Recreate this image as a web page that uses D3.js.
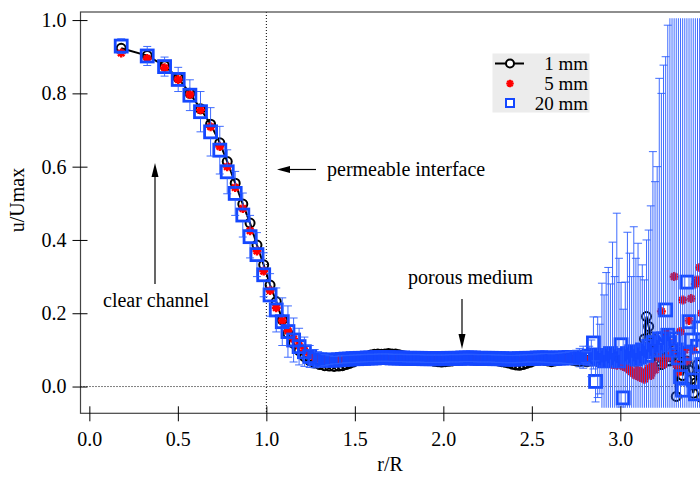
<!DOCTYPE html>
<html>
<head>
<meta charset="utf-8">
<script src="https://cdn.jsdelivr.net/npm/d3@7"></script>
<style>
  body { margin: 0; background: #fff; }
  svg { display: block; font-family: "Liberation Serif", "Times New Roman", serif; }
</style>
</head>
<body>
<div id="graph"></div>
<script>
// r/R positions, split by region
var rChannel = [0.18, 0.327, 0.425, 0.502, 0.568, 0.628, 0.685, 0.737, 0.779, 0.824,
  0.867, 0.908, 0.947, 0.985, 1.021, 1.056, 1.090, 1.122, 1.154, 1.185,
  1.215, 1.245, 1.273, 1.302, 1.329, 1.356, 1.383, 1.409];
var rPorous = [1.43, 1.45, 1.47, 1.49, 1.51, 1.53, 1.55, 1.57, 1.59, 1.61,
  1.63, 1.65, 1.67, 1.69, 1.71, 1.73, 1.75, 1.77, 1.79, 1.81,
  1.83, 1.85, 1.87, 1.89, 1.91, 1.93, 1.95, 1.97, 1.99, 2.01,
  2.03, 2.05, 2.07, 2.09, 2.11, 2.13, 2.15, 2.17, 2.19, 2.21,
  2.23, 2.25, 2.27, 2.29, 2.31, 2.33, 2.35, 2.37, 2.39, 2.41,
  2.43, 2.45, 2.47, 2.49, 2.51, 2.53, 2.55, 2.57, 2.59, 2.61,
  2.63, 2.65, 2.67, 2.69, 2.71, 2.73, 2.75, 2.77, 2.79];
var rWall = [2.800, 2.812, 2.824, 2.836, 2.848, 2.860, 2.872, 2.884, 2.896, 2.908,
  2.920, 2.932, 2.944, 2.956, 2.968, 2.980, 2.992, 3.004, 3.016, 3.028,
  3.040, 3.052, 3.064, 3.076, 3.088, 3.100, 3.112, 3.124, 3.136, 3.148,
  3.160, 3.172, 3.184, 3.196, 3.208, 3.220, 3.232, 3.244, 3.256, 3.268,
  3.280, 3.292, 3.304, 3.316, 3.328, 3.340, 3.352, 3.364, 3.376, 3.388,
  3.400, 3.412, 3.424, 3.436, 3.448, 3.460];

// 1 mm (black circles)
var u1Channel = [0.923, 0.903, 0.875, 0.842, 0.800, 0.758, 0.716, 0.665, 0.614, 0.555,
  0.498, 0.446, 0.386, 0.332, 0.277, 0.232, 0.182, 0.145, 0.118, 0.098,
  0.082, 0.071, 0.064, 0.060, 0.057, 0.056, 0.055, 0.056];
var u1Porous = [0.057, 0.060, 0.063, 0.067, 0.071, 0.075, 0.078, 0.082, 0.086, 0.088,
  0.089, 0.088, 0.089, 0.090, 0.089, 0.089, 0.087, 0.084, 0.080, 0.078,
  0.076, 0.075, 0.074, 0.073, 0.072, 0.071, 0.069, 0.068, 0.067, 0.068,
  0.069, 0.070, 0.072, 0.073, 0.074, 0.075, 0.074, 0.073, 0.072, 0.073,
  0.074, 0.075, 0.074, 0.072, 0.070, 0.068, 0.066, 0.064, 0.061, 0.059,
  0.058, 0.060, 0.063, 0.066, 0.070, 0.072, 0.073, 0.072, 0.070, 0.068,
  0.070, 0.072, 0.074, 0.075, 0.074, 0.072, 0.070, 0.068, 0.070];
var u1Wall = [0.070, 0.068, 0.072, 0.070, 0.073, 0.071, 0.069, 0.072, 0.070, 0.068,
  0.070, 0.072, 0.069, 0.071, 0.068, 0.070, 0.072, 0.069, 0.071, 0.070,
  0.072, 0.068, 0.070, 0.073, 0.069, 0.075, 0.080, 0.095, 0.130, 0.191,
  0.164, 0.136, 0.110, 0.090, 0.085, 0.070, 0.060, 0.075, 0.080, 0.070,
  0.070, 0.080, 0.100, -0.027, 0.059, 0.092, 0.030, 0.060, 0.070, 0.045,
  0.020, -0.018, 0.010, 0.060, 0.040, -0.030];

// 5 mm (red asterisks)
var u5Channel = [0.910, 0.895, 0.870, 0.838, 0.797, 0.755, 0.709, 0.655, 0.600, 0.543,
  0.486, 0.425, 0.370, 0.315, 0.262, 0.215, 0.180, 0.152, 0.130, 0.112,
  0.098, 0.087, 0.080, 0.076, 0.074, 0.073, 0.072, 0.072];
var u5Porous = [0.071, 0.071, 0.072, 0.072, 0.073, 0.073, 0.074, 0.074, 0.074, 0.075,
  0.075, 0.075, 0.074, 0.074, 0.074, 0.073, 0.073, 0.073, 0.072, 0.072,
  0.072, 0.072, 0.071, 0.071, 0.071, 0.070, 0.070, 0.070, 0.071, 0.071,
  0.072, 0.072, 0.072, 0.073, 0.073, 0.073, 0.073, 0.072, 0.072, 0.072,
  0.072, 0.072, 0.071, 0.071, 0.070, 0.070, 0.069, 0.068, 0.068, 0.068,
  0.069, 0.070, 0.071, 0.072, 0.072, 0.073, 0.073, 0.073, 0.072, 0.072,
  0.072, 0.073, 0.073, 0.074, 0.074, 0.073, 0.073, 0.072, 0.073];
var u5Wall = [0.072, 0.070, 0.074, 0.071, 0.073, 0.070, 0.072, 0.068, 0.070, 0.066,
  0.068, 0.064, 0.066, 0.060, 0.062, 0.058, 0.064, 0.060, 0.055, 0.058,
  0.050, 0.045, 0.040, 0.035, 0.030, 0.045, 0.025, 0.040, 0.020, 0.035,
  0.050, 0.030, 0.060, 0.045, 0.100, 0.080, 0.205, 0.060, 0.146, 0.080,
  0.120, 0.090, 0.300, 0.060, 0.040, 0.150, 0.236, 0.100, 0.070, 0.180,
  0.240, 0.100, 0.280, 0.291, 0.325, 0.200];

// 20 mm (blue squares) and its error bars
var u20Channel = [0.929, 0.902, 0.873, 0.838, 0.795, 0.750, 0.695, 0.645, 0.586, 0.527,
  0.468, 0.409, 0.360, 0.305, 0.250, 0.209, 0.177, 0.150, 0.127, 0.109,
  0.095, 0.082, 0.076, 0.073, 0.072, 0.072, 0.072, 0.073];
var u20Porous = [0.074, 0.075, 0.075, 0.076, 0.076, 0.077, 0.077, 0.078, 0.078, 0.078,
  0.079, 0.079, 0.079, 0.079, 0.078, 0.078, 0.078, 0.078, 0.077, 0.077,
  0.077, 0.077, 0.077, 0.076, 0.076, 0.076, 0.076, 0.076, 0.076, 0.076,
  0.077, 0.077, 0.077, 0.077, 0.078, 0.078, 0.078, 0.078, 0.077, 0.077,
  0.077, 0.077, 0.077, 0.076, 0.076, 0.076, 0.075, 0.075, 0.075, 0.075,
  0.076, 0.076, 0.077, 0.077, 0.077, 0.078, 0.078, 0.078, 0.078, 0.077,
  0.077, 0.078, 0.078, 0.078, 0.079, 0.079, 0.079, 0.079, 0.080];
var u20Wall = [0.080, 0.078, 0.083, 0.077, 0.119, 0.014, 0.080, 0.075, 0.082, 0.070,
  0.085, 0.080, 0.090, 0.075, 0.085, 0.080, 0.070, 0.114, -0.031, 0.085,
  0.090, 0.080, 0.095, 0.085, 0.075, 0.090, 0.080, 0.100, 0.095, 0.085,
  0.110, 0.100, 0.120, 0.100, 0.110, 0.130, 0.115, 0.130, 0.209, 0.140,
  0.120, 0.100, 0.130, 0.100, 0.078, 0.027, -0.010, 0.090, 0.285, 0.177,
  0.127, 0.018, -0.020, 0.110, 0.160, 0.060];
var err20Channel = [0.020, 0.026, 0.026, 0.033, 0.042, 0.055, 0.066, 0.065, 0.060, 0.060,
  0.060, 0.058, 0.060, 0.060, 0.058, 0.060, 0.065, 0.070, 0.060, 0.050,
  0.040, 0.030, 0.025, 0.020, 0.015, 0.012, 0.010, 0.010];
var err20Porous = [0.010, 0.010, 0.010, 0.010, 0.010, 0.010, 0.010, 0.010, 0.010, 0.010,
  0.010, 0.010, 0.010, 0.010, 0.010, 0.010, 0.010, 0.010, 0.010, 0.010,
  0.010, 0.010, 0.010, 0.010, 0.010, 0.010, 0.010, 0.010, 0.010, 0.010,
  0.010, 0.010, 0.010, 0.010, 0.010, 0.010, 0.010, 0.010, 0.010, 0.010,
  0.010, 0.010, 0.010, 0.010, 0.010, 0.010, 0.010, 0.010, 0.010, 0.010,
  0.010, 0.010, 0.010, 0.010, 0.010, 0.011, 0.011, 0.012, 0.012, 0.012,
  0.013, 0.013, 0.014, 0.015, 0.016, 0.018, 0.020, 0.025, 0.030];
var err20Wall = [0.015, 0.017, 0.027, 0.050, 0.071, 0.056, 0.110, 0.095, 0.200, 0.180,
  0.226, 0.245, 0.190, 0.319, 0.215, 0.393, 0.280, 0.170, 0.242, 0.200,
  0.331, 0.284, 0.205, 0.351, 0.275, 0.301, 0.220, 0.232, 0.196, 0.315,
  0.317, 0.393, 0.521, 0.459, 0.490, 0.711, 0.685, 0.747, 0.691, 0.846,
  0.950, 1.000, 1.000, 1.050, 1.100, 1.100, 1.100, 1.050, 0.950, 1.000,
  1.000, 1.100, 1.100, 1.000, 1.000, 1.050];

var xTicks = [0.0, 0.5, 1.0, 1.5, 2.0, 2.5, 3.0];
var yTicks = [0.0, 0.2, 0.4, 0.6, 0.8, 1.0];
var legendLabels = ["1 mm", "5 mm", "20 mm"];

var rAll = rChannel.concat(rPorous, rWall);
var u1 = u1Channel.concat(u1Porous, u1Wall);
var u5 = u5Channel.concat(u5Porous, u5Wall);
var u20 = u20Channel.concat(u20Porous, u20Wall);
var err20 = err20Channel.concat(err20Porous, err20Wall);

var W = 700, H = 477;
var svg = d3.select("#graph").append("svg")
  .attr("width", W).attr("height", H);

// scales (plot runs off the right edge of the picture)
var x = d3.scaleLinear().domain([-0.05, 3.48]).range([80.5, 705.3]);
var y = d3.scaleLinear().domain([-0.073, 1.022]).range([413.3, 12]);

var defs = svg.append("defs");
defs.append("clipPath").attr("id", "plotClip").append("rect")
  .attr("x", 80.5).attr("y", 12).attr("width", 625).attr("height", 401.3);
defs.append("clipPath").attr("id", "errClip").append("rect")
  .attr("x", 80.5).attr("y", y(1.005)).attr("width", 625).attr("height", y(-0.058) - y(1.005));

// dotted reference lines
svg.append("line")
  .attr("x1", x(1)).attr("x2", x(1)).attr("y1", 12).attr("y2", 413.3)
  .attr("stroke", "#000").attr("stroke-width", 1).attr("stroke-dasharray", "1,2");
svg.append("line")
  .attr("x1", 80.5).attr("x2", 705).attr("y1", y(0)).attr("y2", y(0))
  .attr("stroke", "#000").attr("stroke-width", 1).attr("stroke-dasharray", "1,2");

var pts = rAll.map(function(d, i) {
  return { r: d, a: u1[i], b: u5[i], c: u20[i], e: err20[i] };
});

var plot = svg.append("g").attr("clip-path", "url(#plotClip)");

// 1 mm: line + open circles
plot.append("path")
  .datum(pts)
  .attr("fill", "none")
  .attr("stroke", "#000")
  .attr("stroke-width", 2)
  .attr("d", d3.line()
    .x(function(d) { return x(d.r); })
    .y(function(d) { return y(d.a); }));
plot.append("g").selectAll("circle")
  .data(pts).enter().append("circle")
  .attr("cx", function(d) { return x(d.r); })
  .attr("cy", function(d) { return y(d.a); })
  .attr("r", 4.5)
  .attr("fill", "none")
  .attr("stroke", "#000")
  .attr("stroke-width", 2);

// 5 mm: red asterisks
function asterisk(cx, cy, s) {
  var p = d3.path();
  for (var k = 0; k < 4; k++) {
    var a = k * Math.PI / 4;
    p.moveTo(cx - s * Math.cos(a), cy - s * Math.sin(a));
    p.lineTo(cx + s * Math.cos(a), cy + s * Math.sin(a));
  }
  return p.toString();
}
plot.append("g").selectAll("path")
  .data(pts).enter().append("path")
  .attr("d", function(d) { return asterisk(x(d.r), y(d.b), 4.5); })
  .attr("stroke", "#ff0000")
  .attr("stroke-width", 2.4)
  .attr("fill", "none");

// 20 mm: error bars (not drawn inside the marker)
var half = 6;
var eb = svg.append("g").attr("clip-path", "url(#errClip)")
  .attr("stroke", "#2a5cff").attr("stroke-width", 1).attr("stroke-opacity", 0.9);
pts.forEach(function(d) {
  var cx = x(d.r), cy = y(d.c), top = y(d.c + d.e), bot = y(d.c - d.e);
  if (cy - half > top) {
    eb.append("line").attr("x1", cx).attr("x2", cx).attr("y1", top).attr("y2", cy - half);
  }
  if (cy + half < bot) {
    eb.append("line").attr("x1", cx).attr("x2", cx).attr("y1", cy + half).attr("y2", bot);
  }
  eb.append("line").attr("x1", cx - 4).attr("x2", cx + 4).attr("y1", top).attr("y2", top);
  eb.append("line").attr("x1", cx - 4).attr("x2", cx + 4).attr("y1", bot).attr("y2", bot);
});

plot.append("g").selectAll("rect")
  .data(pts).enter().append("rect")
  .attr("x", function(d) { return x(d.r) - 6; })
  .attr("y", function(d) { return y(d.c) - 6; })
  .attr("width", 12).attr("height", 12)
  .attr("fill", "none")
  .attr("stroke", "#1447ff")
  .attr("stroke-width", 2.8);

// frame
svg.append("rect")
  .attr("x", 80.5).attr("y", 12).attr("width", 625).attr("height", 401.3)
  .attr("fill", "none").attr("stroke", "#444").attr("stroke-width", 1.2);

// Add Y axis
var yAxis = svg.append("g")
  .attr("transform", "translate(80.5,0)")
  .call(d3.axisLeft(y).tickValues(yTicks).tickFormat(d3.format(".1f"))
    .tickSizeInner(8).tickSizeOuter(0).tickPadding(6));
yAxis.select(".domain").remove();
yAxis.selectAll(".tick line").attr("x1", 7).attr("stroke", "#000");
yAxis.selectAll(".tick text").attr("font-size", 20).attr("fill", "#000")
  .attr("font-family", "'Liberation Serif', serif");

// Add X axis
var xAxis = svg.append("g")
  .attr("transform", "translate(0,413.3)")
  .call(d3.axisBottom(x).tickValues(xTicks).tickFormat(d3.format(".1f"))
    .tickSizeInner(8).tickSizeOuter(0).tickPadding(11));
xAxis.select(".domain").remove();
xAxis.selectAll(".tick line").attr("y1", -7).attr("stroke", "#000");
xAxis.selectAll(".tick text").attr("font-size", 20).attr("fill", "#000")
  .attr("font-family", "'Liberation Serif', serif");

// axis titles
svg.append("text")
  .attr("transform", "translate(24,200) rotate(-90)")
  .attr("text-anchor", "middle").attr("font-size", 20)
  .text("u/Umax");
svg.append("text")
  .attr("x", 390).attr("y", 471)
  .attr("text-anchor", "middle").attr("font-size", 20)
  .text("r/R");

// annotations
svg.append("text").attr("x", 327).attr("y", 176).attr("font-size", 20).text("permeable interface");
svg.append("line").attr("x1", 316).attr("x2", 286).attr("y1", 169.5).attr("y2", 169.5)
  .attr("stroke", "#000").attr("stroke-width", 1.2);
svg.append("path").attr("d", "M277,169.5L290,166L290,173Z").attr("fill", "#000");

svg.append("text").attr("x", 103).attr("y", 307).attr("font-size", 20).text("clear channel");
svg.append("line").attr("x1", 155).attr("x2", 155).attr("y1", 284).attr("y2", 175)
  .attr("stroke", "#000").attr("stroke-width", 1.2);
svg.append("path").attr("d", "M155,163L151.5,177L158.5,177Z").attr("fill", "#000");

svg.append("text").attr("x", 408).attr("y", 284).attr("font-size", 20).text("porous medium");
svg.append("line").attr("x1", 462).attr("x2", 462).attr("y1", 299).attr("y2", 337)
  .attr("stroke", "#000").attr("stroke-width", 1.2);
svg.append("path").attr("d", "M462,349L458.5,334L465.5,334Z").attr("fill", "#000");

// legend
var lg = svg.append("g");
lg.append("rect").attr("x", 492.5).attr("y", 53.5).attr("width", 97).attr("height", 59)
  .attr("fill", "#ececec");
var rowY = [63.5, 83.5, 103];
lg.append("line").attr("x1", 495).attr("x2", 524).attr("y1", rowY[0]).attr("y2", rowY[0])
  .attr("stroke", "#000").attr("stroke-width", 2);
lg.append("circle").attr("cx", 510).attr("cy", rowY[0]).attr("r", 4)
  .attr("fill", "#fff").attr("stroke", "#000").attr("stroke-width", 2);
lg.append("path").attr("d", asterisk(510, rowY[1], 3.8))
  .attr("stroke", "#ff0000").attr("stroke-width", 2.2);
lg.append("rect").attr("x", 506).attr("y", rowY[2] - 4).attr("width", 8).attr("height", 8)
  .attr("fill", "#fff").attr("stroke", "#1447ff").attr("stroke-width", 2);
lg.selectAll("text.lab").data(legendLabels).enter().append("text")
  .attr("class", "lab")
  .attr("x", 588).attr("y", function(d, i) { return rowY[i]; })
  .attr("dy", "0.35em").attr("text-anchor", "end").attr("font-size", 19)
  .text(function(d) { return d; });
</script>
</body>
</html>
